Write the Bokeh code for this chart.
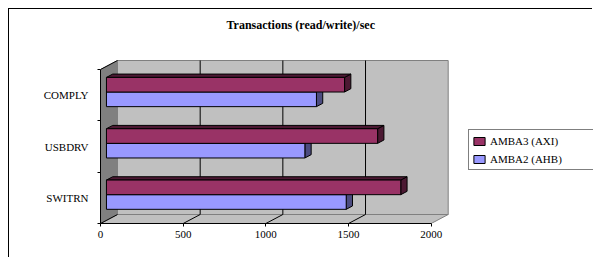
from bokeh.plotting import figure
from bokeh.models import Range1d, LinearAxis, FixedTicker, Legend, LegendItem
from bokeh.embed import file_html
from bokeh.resources import INLINE

# ---------------- data ----------------
categories = ["SWITRN", "USBDRV", "COMPLY"]
amba3_axi = [1780, 1640, 1440]
amba2_ahb = [1450, 1200, 1270]
series_labels = ["AMBA3 (AXI)", "AMBA2 (AHB)"]
value_ticks = [0, 500, 1000, 1500, 2000]
title_text = "Transactions (read/write)/sec"

# ---------------- layout / style constants ----------------
W, H = 584, 249
FRAME_L, FRAME_B, FRAME_T = 91, 35, 27
PX_PER_VAL = 0.16535
PX_PER_CAT = 51.33
DEPTH_X_PX, DEPTH_Y_PX = 17, 9
BAR_D0, BAR_D1 = 0.35, 0.72
BAR_H = 0.285
FONT = "Liberation Serif"
MAROON, MAROON_DK = "#993366", "#4c1933"
BLUE, BLUE_DK = "#9999ff", "#4c4c80"

xr = Range1d(0, (W - FRAME_L) / PX_PER_VAL)
yr = Range1d(0, (H - FRAME_B - FRAME_T) / PX_PER_CAT)
DX = DEPTH_X_PX / PX_PER_VAL
DY = DEPTH_Y_PX / PX_PER_CAT
vmax = value_ticks[-1]
ncat = len(categories)


def P(v, y, d):
    return v + d * DX, y + d * DY


def poly(pts):
    xs, ys = zip(*[P(*q) for q in pts])
    return list(xs), list(ys)


p = figure(width=W, height=H, x_range=xr, y_range=yr,
           output_backend="svg", toolbar_location=None,
           x_axis_location=None, y_axis_location=None,
           min_border_left=FRAME_L, min_border_right=0,
           min_border_bottom=FRAME_B, min_border_top=FRAME_T,
           outline_line_color=None,
           background_fill_color="white", border_fill_color="white")
p.margin = (8, 0, 0, 8)
p.styles = {"border-left": "1px solid black", "border-top": "1px solid black"}
p.grid.visible = False

# title
p.title.text = title_text
p.title.align = "left"
p.title.offset = 126
p.title.text_font = FONT
p.title.text_font_size = "12px"
p.title.text_font_style = "bold"
p.title.text_color = "black"
p.title.standoff = 10

# ---------------- 3D walls ----------------
bx, by = poly([(0, 0, 1), (vmax, 0, 1), (vmax, ncat, 1), (0, ncat, 1)])
fx, fy = poly([(0, 0, 0), (vmax, 0, 0), (vmax, 0, 1), (0, 0, 1)])
lx, ly = poly([(0, 0, 0), (0, 0, 1), (0, ncat, 1), (0, ncat, 0)])
p.patches([bx, fx], [by, fy], fill_color="#c0c0c0", line_color="#808080", line_width=1)
p.patches([lx], [ly], fill_color="#808080", line_color="#808080", line_width=1)

# left wall top edge
tx0, ty0 = P(0, ncat, 0)
tx1, ty1 = P(0, ncat, 1)
p.segment(x0=[tx0], y0=[ty0], x1=[tx1], y1=[ty1], line_color="black", line_width=1)

# back wall gridlines and floor lines
gx0, gy0, gx1, gy1 = [], [], [], []
for v in value_ticks[1:-1]:
    a = P(v, 0, 1)
    b = P(v, ncat, 1)
    gx0.append(a[0]); gy0.append(a[1]); gx1.append(b[0]); gy1.append(b[1])
for v in value_ticks[:-1]:
    a = P(v, 0, 0)
    b = P(v, 0, 1)
    gx0.append(a[0]); gy0.append(a[1]); gx1.append(b[0]); gy1.append(b[1])
p.segment(x0=gx0, y0=gy0, x1=gx1, y1=gy1, line_color="black", line_width=1)

# ---------------- bars ----------------
front_renderers = {}
for label, vals, col, dark, upper in [(series_labels[1], amba2_ahb, BLUE, BLUE_DK, False),
                                      (series_labels[0], amba3_axi, MAROON, MAROON_DK, True)]:
    sx, sy = [], []
    L, R, B, T = [], [], [], []
    for i, v in enumerate(vals):
        c = i + 0.5
        y0, y1 = (c, c + BAR_H) if upper else (c - BAR_H, c)
        ex, ey = poly([(v, y0, BAR_D0), (v, y0, BAR_D1), (v, y1, BAR_D1), (v, y1, BAR_D0)])
        tx, ty = poly([(0, y1, BAR_D0), (v, y1, BAR_D0), (v, y1, BAR_D1), (0, y1, BAR_D1)])
        sx += [ex, tx]; sy += [ey, ty]
        l_, b_ = P(0, y0, BAR_D0)
        r_, t_ = P(v, y1, BAR_D0)
        L.append(l_); R.append(r_); B.append(b_); T.append(t_)
    p.patches(sx, sy, fill_color=dark, line_color="black", line_width=1)
    front_renderers[label] = p.quad(left=L, right=R, bottom=B, top=T,
                                    fill_color=col, line_color="black", line_width=1)

# ---------------- axes ----------------
cat_ticks = [i + 0.5 for i in range(ncat)]
cat_bounds = [float(i) for i in range(ncat + 1)]
left = LinearAxis(ticker=FixedTicker(ticks=cat_ticks, minor_ticks=cat_bounds),
                  major_label_overrides={t: n for t, n in zip(cat_ticks, categories)},
                  bounds=(0, ncat))
left.axis_line_color = "black"
left.major_tick_out = 0
left.major_tick_in = 0
left.minor_tick_out = 3
left.minor_tick_in = 0
left.minor_tick_line_color = "black"
left.major_label_standoff = 9
left.major_label_text_font = FONT
left.major_label_text_font_size = "11px"
left.major_label_text_color = "black"
p.add_layout(left, "left")

bottom = LinearAxis(ticker=FixedTicker(ticks=value_ticks, minor_ticks=[]), bounds=(0, vmax))
bottom.axis_line_color = "black"
bottom.major_tick_out = 3
bottom.major_tick_in = 0
bottom.major_tick_line_color = "black"
bottom.minor_tick_out = 0
bottom.minor_tick_in = 0
bottom.major_label_standoff = 4
bottom.major_label_text_font = FONT
bottom.major_label_text_font_size = "11px"
bottom.major_label_text_color = "black"
p.add_layout(bottom, "below")

# ---------------- legend ----------------
legend = Legend(items=[LegendItem(label=s, renderers=[front_renderers[s]]) for s in series_labels],
                location=(368, 53), orientation="vertical",
                border_line_color="black", border_line_width=1,
                background_fill_color="white", background_fill_alpha=1.0,
                padding=3, spacing=3, margin=0,
                glyph_width=14, glyph_height=10, label_height=15,
                label_standoff=4, label_width=110,
                label_text_font=FONT, label_text_font_size="11px", label_text_color="black")
p.add_layout(legend)

open("out.html", "w").write(file_html(p, INLINE))
